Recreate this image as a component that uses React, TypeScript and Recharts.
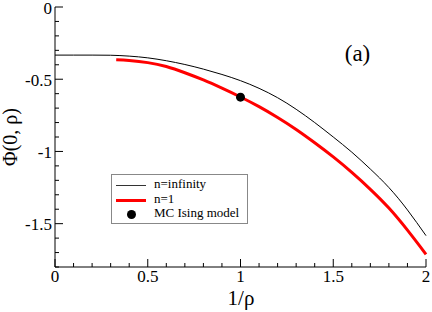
import { ComposedChart, Line, XAxis, YAxis, Legend } from 'recharts';

// n = infinity curve
const nInfX = [0, 0.1, 0.2, 0.3, 0.4, 0.5, 0.6, 0.7, 0.8, 0.9, 1.0, 1.1, 1.2, 1.3, 1.4, 1.5, 1.6, 1.7, 1.8, 1.9, 2.0];
const nInfY = [-0.333, -0.333, -0.333, -0.334, -0.340, -0.352, -0.372, -0.398, -0.430, -0.467, -0.510, -0.563, -0.628, -0.708, -0.800, -0.900, -1.005, -1.122, -1.250, -1.405, -1.583];

// n = 1 curve
const n1X = [0.33, 0.4, 0.5, 0.6, 0.7, 0.8, 0.9, 1.0, 1.1, 1.2, 1.3, 1.4, 1.5, 1.6, 1.7, 1.8, 1.9, 2.0];
const n1Y = [-0.366, -0.371, -0.385, -0.412, -0.455, -0.505, -0.562, -0.623, -0.690, -0.765, -0.848, -0.940, -1.038, -1.145, -1.262, -1.392, -1.545, -1.712];

// MC Ising model point
const mcX = [1.0];
const mcY = [-0.624];

const xTicks = [0, 0.1, 0.2, 0.3, 0.4, 0.5, 0.6, 0.7, 0.8, 0.9, 1, 1.1, 1.2, 1.3, 1.4, 1.5, 1.6, 1.7, 1.8, 1.9, 2];
const yTicks = [-1.8, -1.7, -1.6, -1.5, -1.4, -1.3, -1.2, -1.1, -1, -0.9, -0.8, -0.7, -0.6, -0.5, -0.4, -0.3, -0.2, -0.1, 0];

const FONT = 'Liberation Serif, serif';

const zip = (xs: number[], ys: number[]) => xs.map((x, i) => ({ x, y: ys[i] }));
const nInfData = zip(nInfX, nInfY);
const n1Data = zip(n1X, n1Y);
const mcData = zip(mcX, mcY);

const isMajor = (v: number) => Math.abs(v * 2 - Math.round(v * 2)) < 1e-6;
const MAJOR = 8;
const MINOR = 4;

function BottomTick({ x, y, payload }: any) {
    const major = isMajor(payload.value);
    return (
        <g>
            <line x1={x} x2={x} y1={y} y2={y - (major ? MAJOR : MINOR)} stroke="#000" />
            {major && (
                <text x={x} y={y + 15} textAnchor="middle" fontFamily={FONT} fontSize={17} fill="#000">
                    {String(payload.value)}
                </text>
            )}
        </g>
    );
}

function TopTick({ x, y, payload }: any) {
    const major = isMajor(payload.value);
    return <line x1={x} x2={x} y1={y} y2={y + (major ? MAJOR : MINOR)} stroke="#000" />;
}

function LeftTick({ x, y, payload }: any) {
    const major = isMajor(payload.value);
    return (
        <g>
            <line x1={x} x2={x + (major ? MAJOR : MINOR)} y1={y} y2={y} stroke="#000" />
            {major && (
                <text x={x - 3} y={y + 6.5} textAnchor="end" fontFamily={FONT} fontSize={17} fill="#000">
                    {String(payload.value)}
                </text>
            )}
        </g>
    );
}

function RightTick({ x, y, payload }: any) {
    const major = isMajor(payload.value);
    return <line x1={x} x2={x - (major ? MAJOR : MINOR)} y1={y} y2={y} stroke="#000" />;
}

function LegendBox() {
    const rows = [
        { label: 'n=infinity', kind: 'thin', top: 10 },
        { label: 'n=1', kind: 'thick', top: 25 },
        { label: 'MC Ising model', kind: 'dot', top: 38.5 },
    ];
    return (
        <div style={{ position: 'relative', width: 135, height: 48, border: '1px solid #888', background: '#fff', fontFamily: FONT, fontSize: 13, color: '#000' }}>
            {rows.map((r) => (
                <div key={r.label}>
                    {r.kind === 'thin' && <div style={{ position: 'absolute', left: 4, top: r.top, width: 30, height: 1, background: '#333' }} />}
                    {r.kind === 'thick' && <div style={{ position: 'absolute', left: 4, top: r.top - 1, width: 30, height: 3, background: '#ff0000' }} />}
                    {r.kind === 'dot' && <div style={{ position: 'absolute', left: 15, top: r.top - 4, width: 9, height: 9, borderRadius: '50%', background: '#000' }} />}
                    <div style={{ position: 'absolute', left: 42, top: r.top - 9, lineHeight: '16px', whiteSpace: 'nowrap' }}>{r.label}</div>
                </div>
            ))}
        </div>
    );
}

export default function App() {
    return (
        <div style={{ position: 'absolute', left: 0, top: 0, width: 432, height: 312, background: '#fff' }}>
            <ComposedChart width={432} height={312} margin={{ top: 7, right: 6, bottom: 0, left: 0 }}>
                <XAxis
                    dataKey="x"
                    type="number"
                    domain={[0, 2]}
                    ticks={xTicks}
                    interval={0}
                    height={45}
                    tickSize={0}
                    tickMargin={0}
                    tickLine={false}
                    axisLine={{ stroke: '#000' }}
                    tick={<BottomTick />}
                />
                <XAxis
                    xAxisId="top"
                    orientation="top"
                    type="number"
                    domain={[0, 2]}
                    ticks={xTicks}
                    interval={0}
                    height={0}
                    tickSize={0}
                    tickMargin={0}
                    tickLine={false}
                    axisLine={{ stroke: '#000' }}
                    tick={<TopTick />}
                />
                <YAxis
                    type="number"
                    domain={[-1.8, 0]}
                    ticks={yTicks}
                    interval={0}
                    width={55}
                    tickSize={0}
                    tickMargin={0}
                    tickLine={false}
                    axisLine={{ stroke: '#000' }}
                    tick={<LeftTick />}
                />
                <YAxis
                    yAxisId="right"
                    orientation="right"
                    type="number"
                    domain={[-1.8, 0]}
                    ticks={yTicks}
                    interval={0}
                    width={0}
                    tickSize={0}
                    tickMargin={0}
                    tickLine={false}
                    axisLine={{ stroke: '#555' }}
                    tick={<RightTick />}
                />
                <Line data={nInfData} dataKey="y" type="natural" stroke="#000" strokeWidth={1} dot={false} activeDot={false} isAnimationActive={false} name="n=infinity" />
                <Line data={n1Data} dataKey="y" type="natural" stroke="#ff0000" strokeWidth={3} dot={false} activeDot={false} isAnimationActive={false} name="n=1" />
                <Line data={mcData} dataKey="y" stroke="none" dot={{ r: 4.5, fill: '#000', stroke: '#000', strokeWidth: 0 }} activeDot={false} isAnimationActive={false} name="MC Ising model" />
                <Legend
                    layout="vertical"
                    align="center"
                    verticalAlign="middle"
                    content={<LegendBox />}
                    wrapperStyle={{ left: 111, top: 174, width: 137, height: 50 }}
                />
                <text x={357.5} y={61} textAnchor="middle" fontFamily={FONT} fontSize={23} fill="#000">(a)</text>
                <text x={241} y={305} textAnchor="middle" fontFamily={FONT} fontSize={21} fill="#000">1/ρ</text>
                <text transform="translate(17,137) rotate(-90)" x={0} y={0} textAnchor="middle" fontFamily={FONT} fontSize={20} fill="#000">Φ(0, ρ)</text>
            </ComposedChart>
        </div>
    );
}
